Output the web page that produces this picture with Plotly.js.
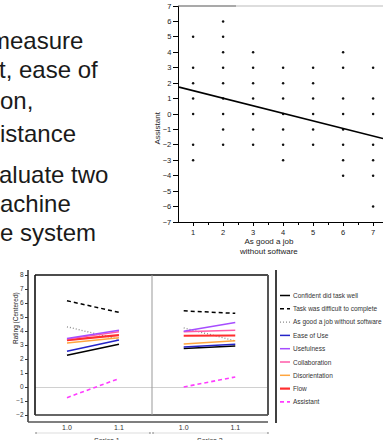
<!DOCTYPE html>
<html>
<head>
<meta charset="utf-8">
<script src="https://cdn.plot.ly/plotly-3.0.1.min.js"></script>
<style>
html,body{margin:0;padding:0;background:#fff;overflow:hidden;}
#wrap{position:relative;width:383px;height:440px;overflow:hidden;}
#chart{position:absolute;left:0;top:0;width:383px;height:440px;}
.slide{position:absolute;font-family:'Liberation Sans',Arial,sans-serif;font-size:24px;color:#1a1a1a;white-space:nowrap;}
</style>
</head>
<body>
<div id="wrap"><div id="chart"></div></div>
<script>
// ---------- data ----------
// slide text fragments (visible part of the slide)
const slideLines = ["measure", "t, ease of", "on,", "istance", "aluate two", "achine", "e system"];

// scatter: "As good a job without software" vs "Assistant"
const scatX = [1,1,1,1,1,1,1,
               2,2,2,2,2,2,2,2,2,
               3,3,3,3,3,3,3,
               4,4,4,4,4,4,4,
               5,5,5,5,5,5,
               6,6,6,6,6,6,6,6,
               7,7,7,7,7,7,7];
const scatY = [5,3,2,1,0,-2,-3,
               6,5,4,3,2,1,0,-1,-2,
               4,3,2,1,0,-1,-2,
               3,2,1,0,-1,-2,-3,
               3,2,1,0,-1,-2,
               4,3,1,0,-1,-2,-3,-4,
               3,1,0,-2,-3,-4,-6];
const fitX = [0.53, 7.33];
const fitY = [1.74, -1.59];
const scatTicks = [-7,-6,-5,-4,-3,-2,-1,0,1,2,3,4,5,6,7];

// line chart
const versions = [1.0, 1.1];
const versionLabels = ["1.0", "1.1"];
const panelNames = ["Series 1", "Series 2"];
const seriesNames = ["Confident did task well", "Task was difficult to complete",
  "As good a job without software", "Ease of Use", "Usefulness", "Collaboration",
  "Disorientation", "Flow", "Assistant"];
const panel1v10 = [2.27, 6.16, 4.30, 2.56, 3.47, 3.42, 3.15, 3.35, -0.76];
const panel1v11 = [3.06, 5.33, 3.40, 3.35, 4.06, 3.94, 3.51, 3.70, 0.60];
const panel2v10 = [2.75, 5.44, 4.22, 2.86, 3.99, 3.94, 3.08, 3.66, 0.00];
const panel2v11 = [2.92, 5.26, 3.30, 3.05, 4.61, 4.06, 3.30, 3.68, 0.72];
const ratingTicks = [-2,-1,0,1,2,3,4,5,6,7,8];

// ---------- styles ----------
const seriesColors = ['#000000','#000000','#8a8a8a','#2424c8','#a64dff','#ff5aa8','#ffa53f','#ff2e2e','#ff3cff'];
const seriesDash = ['solid','4px,3px','1px,2px','solid','solid','solid','solid','solid','4px,3px'];
const seriesWidth = [1.5,1.5,1.3,1.5,1.5,1.5,1.5,2.2,1.6];

const W = 383, H = 440;
const px = v => v / W;
const py = v => 1 - v / H;
const FONT = 'Liberation Sans, Arial, sans-serif';

// ---------- slide text (HTML) ----------
const slideCenter = [42, 71, 102, 135, 176, 205, 234];
const slideLH = 29;
const slideLeft = [-10, -1, 0, 0, -1, 0, 0];
const wrap = document.getElementById('wrap');
slideLines.forEach((t, i) => {
  const d = document.createElement('div');
  d.className = 'slide';
  d.textContent = t;
  d.style.lineHeight = slideLH + 'px';
  d.style.height = slideLH + 'px';
  d.style.left = slideLeft[i] + 'px';
  d.style.top = (slideCenter[i] - slideLH / 2 - 2) + 'px';
  wrap.appendChild(d);
});

// ---------- traces ----------
const traces = [];
traces.push({x: scatX, y: scatY, xaxis: 'x', yaxis: 'y', type: 'scatter', mode: 'markers',
  marker: {size: 2.5, color: '#111'}, hoverinfo: 'skip'});
traces.push({x: fitX, y: fitY, xaxis: 'x', yaxis: 'y', type: 'scatter', mode: 'lines',
  line: {color: '#000', width: 1.6}, hoverinfo: 'skip'});

const drawOrder = [2,0,1,3,6,7,5,4,8];
const panels = [[panel1v10, panel1v11, 'x2'], [panel2v10, panel2v11, 'x3']];
panels.forEach(p => {
  drawOrder.forEach(i => {
    traces.push({x: versions, y: [p[0][i], p[1][i]], xaxis: p[2], yaxis: 'y2',
      type: 'scatter', mode: 'lines', name: seriesNames[i],
      line: {color: seriesColors[i], width: seriesWidth[i], dash: seriesDash[i]},
      hoverinfo: 'skip'});
  });
});

// ---------- shapes & annotations ----------
const shapes = [];
const ann = [];
const line = (x0,y0,x1,y1,color,width,dash) => shapes.push({type:'line', xref:'paper', yref:'paper',
  x0:px(x0), y0:py(y0), x1:px(x1), y1:py(y1), line:{color:color, width:width, dash:dash||'solid'}});

// scatter decorations
line(178, 6, 236, 6, '#555', 1.2);
line(236, 6, 383, 6, '#bbb', 1);
ann.push({text:'Assistant', xref:'paper', yref:'paper', x:px(157), y:py(110), textangle:-90,
  showarrow:false, font:{family:FONT, size:8, color:'#222'}});
ann.push({text:'As good a job<br>without software', xref:'paper', yref:'paper', x:px(300), y:py(246),
  showarrow:false, font:{family:FONT, size:8, color:'#222'}});

// line chart frame
line(35, 275, 268, 275, '#111', 1.6);
line(35, 275, 35, 415, '#111', 1.6);
line(35, 415, 268, 415, '#333', 1.6);
line(268, 275, 268, 415, '#555', 2);
line(152, 275, 152, 415, '#999', 1);
line(28, 270, 28, 422, '#333', 1.5);
line(28, 422, 268, 422, '#555', 1.5);
line(276, 270, 276, 423, '#000', 1.5);
line(36, 433, 150, 433, '#ddd', 1);
line(153, 433, 268, 433, '#ddd', 1);
[36,150,153,268].forEach(x => line(x-0.6, 433, x+0.6, 433, '#777', 1.5));
ann.push({text:'Rating (Centered)', xref:'paper', yref:'paper', x:px(10), y:py(346), textangle:-90,
  showarrow:false, font:{family:FONT, size:6.5, color:'#222'}});
[92, 210].forEach((x, i) => ann.push({text: panelNames[i], xref:'paper', yref:'paper', x:px(x), y:py(435),
  yanchor:'top', showarrow:false, font:{family:FONT, size:7, color:'#333'}}));

// legend
seriesNames.forEach((n, i) => {
  const yy = 295.5 + i * 13.3;
  line(280, yy, 290, yy, seriesColors[i], seriesWidth[i], seriesDash[i]);
  ann.push({text: n, xref:'paper', yref:'paper', x:px(291), y:py(yy), xanchor:'left', yanchor:'middle',
    showarrow:false, font:{family:FONT, size:6.5, color:'#333'}});
});

// ---------- layout ----------
const tickFont = {family: FONT, size: 7.5, color: '#222'};
const layout = {
  width: W, height: H, margin: {l:0, r:0, t:0, b:0},
  paper_bgcolor: '#fff', plot_bgcolor: 'rgba(0,0,0,0)', showlegend: false,
  xaxis: {domain:[px(179), 1], range:[0.53, 7.33], anchor:'y', tickmode:'linear', tick0:1, dtick:1,
    ticks:'outside', ticklen:3, tickcolor:'#000', showline:true, linecolor:'#000', linewidth:1.2,
    showgrid:false, zeroline:false, tickfont:tickFont,
    minor:{tick0:0.5, dtick:1, ticks:'outside', ticklen:2, tickcolor:'#000', showgrid:false}},
  yaxis: {domain:[py(222), py(6)], range:[-7, 7], anchor:'x', tickmode:'array', tickvals:scatTicks,
    ticks:'outside', ticklen:5, tickcolor:'#000', showline:true, linecolor:'#000', linewidth:1.2,
    showgrid:false, zeroline:false, tickfont:tickFont},
  xaxis2: {domain:[px(35), px(152)], range:[0.9385, 1.1635], anchor:'free', position:py(422),
    tickmode:'array', tickvals:versions, ticktext:versionLabels, ticks:'', showline:false,
    showgrid:false, zeroline:false, tickfont:{family:FONT, size:7, color:'#333'}},
  xaxis3: {domain:[px(152), px(268)], range:[0.9385, 1.1635], anchor:'free', position:py(422),
    tickmode:'array', tickvals:versions, ticktext:versionLabels, ticks:'', showline:false,
    showgrid:false, zeroline:false, tickfont:{family:FONT, size:7, color:'#333'}},
  yaxis2: {domain:[py(415), py(275)], range:[-2, 8], anchor:'free', position:px(28),
    tickmode:'array', tickvals:ratingTicks, ticks:'outside', ticklen:3, tickcolor:'#333',
    showline:false, showgrid:false, zeroline:true, zerolinecolor:'#d0d0d0', zerolinewidth:1,
    tickfont:{family:FONT, size:6.5, color:'#333'}},
  shapes: shapes,
  annotations: ann
};

Plotly.newPlot('chart', traces, layout, {staticPlot:true, displayModeBar:false});
</script>
</body>
</html>
